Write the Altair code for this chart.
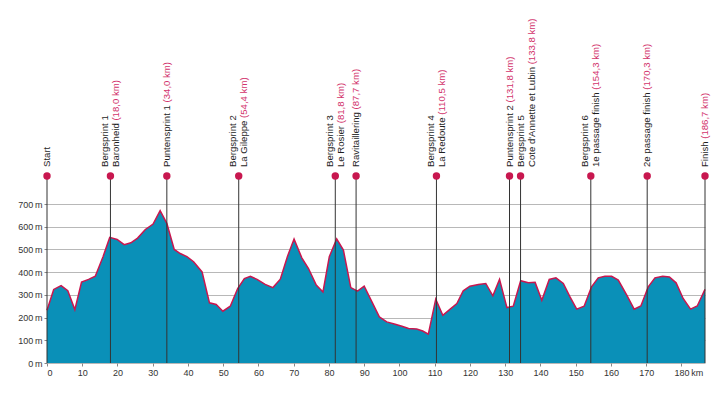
import altair as alt
import pandas as pd

# Elevation profile (km, metres)
km = [0, 1.9, 4.0, 5.9, 7.9, 9.8, 11.8, 13.7, 15.9, 17.8, 19.9, 21.9, 23.8, 25.7, 27.9,
      30.1, 32.1, 34.0, 36.1, 37.8, 39.7, 41.6, 44.0, 46.1, 48.0, 49.9, 52.0, 54.1, 56.0,
      57.7, 59.6, 61.9, 64.1, 66.2, 68.2, 70.1, 72.3, 74.2, 76.4, 78.3, 80.1, 82.2, 84.1,
      86.2, 88.1, 90.0, 92.2, 94.3, 96.4, 98.8, 100.7, 102.6, 104.9, 106.6, 108.2, 110.3,
      112.3, 114.4, 116.3, 118.1, 120.0, 122.4, 124.5, 126.5, 128.4, 130.5, 132.3, 134.4,
      136.6, 138.5, 140.4, 142.5, 144.4, 146.5, 148.4, 150.3, 152.4, 154.5, 156.4, 158.3,
      160.2, 162.1, 164.5, 166.6, 168.5, 170.6, 172.5, 174.7, 176.6, 178.5, 180.5, 182.6,
      184.5, 186.7]
elev = [232, 324, 341, 318, 235, 356, 368, 382, 468, 553, 544, 521, 529, 550, 588,
        612, 671, 615, 500, 482, 468, 446, 401, 265, 258, 228, 250, 328, 372,
        382, 368, 346, 332, 369, 468, 546, 463, 416, 343, 313, 468, 546, 497,
        332, 316, 338, 269, 203, 181, 171, 162, 152, 150, 141, 127, 281,
        210, 237, 262, 318, 338, 346, 350, 296, 368, 244, 250, 362,
        353, 355, 276, 368, 375, 350, 291, 237, 250, 335, 375, 382,
        382, 365, 299, 237, 251, 335, 375, 382, 379, 353, 284, 237,
        251, 324]

# Course markers
mk_km = [0, 18.0, 34.0, 54.4, 81.8, 87.7, 110.5, 131.8, 133.8, 154.3, 170.3, 186.7]
mk_head = ["", "Bergsprint 1", "", "Bergsprint 2", "Bergsprint 3", "", "Bergsprint 4", "",
           "Bergsprint 5", "Bergsprint 6", "", ""]
mk_name = ["Start", "Baronheid", "Puntensprint 1", "La Gileppe", "Le Rosier", "Ravitaillering",
           "La Redoute", "Puntensprint 2", "Cote d'Annette et Lubin", "1e passage finish",
           "2e passage finish", "Finish"]
mk_dist = ["", "18,0 km", "34,0 km", "54,4 km", "81,8 km", "87,7 km", "110,5 km", "131,8 km",
           "133,8 km", "154,3 km", "170,3 km", "186,7 km"]

x_ticks = list(range(0, 190, 10))
y_ticks = list(range(0, 800, 100))

BLUE = "#0a90b8"
CRIMSON = "#c8174f"
PINK = "#d2336c"
INK = "#1e1e1e"
FONT = "Liberation Sans"

W, H = 658, 159
XMAX = 186.7
TOP_MARK = -28
TEXT_Y = -37
LINE = 5.5   # half line spacing of two-line labels, px
NUDGE = 2.0  # spread apart markers that nearly coincide, px
PX_KM = W / XMAX

prof = pd.DataFrame({"km": km, "elev": elev})

# layout: nudge close markers apart, shift second label of a close pair to the right
n = len(mk_km)
close = [i > 0 and mk_km[i] - mk_km[i - 1] < 3 for i in range(n)]
nudge = [0.0] * n
shift = [0.0] * n
for i in range(n):
    if close[i]:
        nudge[i - 1] -= NUDGE
        nudge[i] += NUDGE
        shift[i] = LINE
off1 = [nudge[i] - LINE + shift[i] for i in range(n)]
off2 = [nudge[i] + (LINE if mk_head[i] else 0.0) + shift[i] for i in range(n)]

lab = pd.DataFrame({"km": mk_km, "head": mk_head, "name": mk_name, "dist": mk_dist})
lab["full"] = [nm + (" (" + d + ")" if d else "") for nm, d in zip(mk_name, mk_dist)]
lab["k0"] = [k + o / PX_KM for k, o in zip(mk_km, nudge)]
lab["k1"] = [k + o / PX_KM for k, o in zip(mk_km, off1)]
lab["k2"] = [k + o / PX_KM for k, o in zip(mk_km, off2)]

xscale = alt.Scale(domain=[0, XMAX], nice=False, zero=False)
yscale = alt.Scale(domain=[0, 700], nice=False)

xaxis = alt.Axis(values=x_ticks, title=None, grid=False, domain=False, tickSize=3,
                 tickColor="#888", labelFont=FONT, labelFontSize=9, labelColor="#333",
                 labelPadding=2, labelOverlap=False,
                 labelExpr="datum.value == 180 ? '180\u2009km' : datum.label",
                 labelOffset={"condition": {"test": "datum.value == 180", "value": 7}, "value": 0})
yaxis = alt.Axis(values=y_ticks, title=None, grid=True, gridColor="#b8b8b8", gridWidth=1,
                 domain=False, tickSize=3, tickColor="#888", labelFont=FONT, labelFontSize=9,
                 labelColor="#333", labelPadding=2, labelOverlap=False,
                 labelExpr="datum.value + '\u2009m'")

def X(field):
    return alt.X(field + ":Q", scale=xscale, axis=xaxis)

Y = alt.Y("elev:Q", scale=yscale, axis=yaxis)

base = alt.Chart(prof)
area = base.mark_area(color=BLUE, opacity=1).encode(x=X("km"), y=Y)
line = base.mark_line(color=CRIMSON, strokeWidth=1.5).encode(x=X("km"), y=Y)

lb = alt.Chart(lab)
rules = lb.mark_rule(color="#333", strokeWidth=1).encode(
    x=X("k0"), y=alt.value(TOP_MARK), y2=alt.value(H))
dots = lb.mark_circle(size=55, color=CRIMSON, opacity=1).encode(
    x=X("k0"), y=alt.value(TOP_MARK))

tprops = dict(angle=270, align="left", baseline="middle", font=FONT, fontSize=9.6)
pink = lb.mark_text(color=PINK, **tprops).encode(
    x=X("k2"), y=alt.value(TEXT_Y), text="full:N")
erase = lb.mark_text(color="white", stroke="white", strokeWidth=1.2, **tprops).encode(
    x=X("k2"), y=alt.value(TEXT_Y), text="name:N")
black2 = lb.mark_text(color=INK, **tprops).encode(
    x=X("k2"), y=alt.value(TEXT_Y), text="name:N")
black1 = lb.transform_filter("datum.head != ''").mark_text(color=INK, **tprops).encode(
    x=X("k1"), y=alt.value(TEXT_Y), text="head:N")

chart = alt.layer(area, line, rules, dots, pink, erase, black2, black1).properties(
    width=W, height=H,
    padding={"left": 39, "top": 196, "right": 12, "bottom": 25},
    autosize=alt.AutoSizeParams(type="none"),
).configure_view(stroke=None)

chart.save("out.html", embed_options={"renderer": "svg", "actions": False})
